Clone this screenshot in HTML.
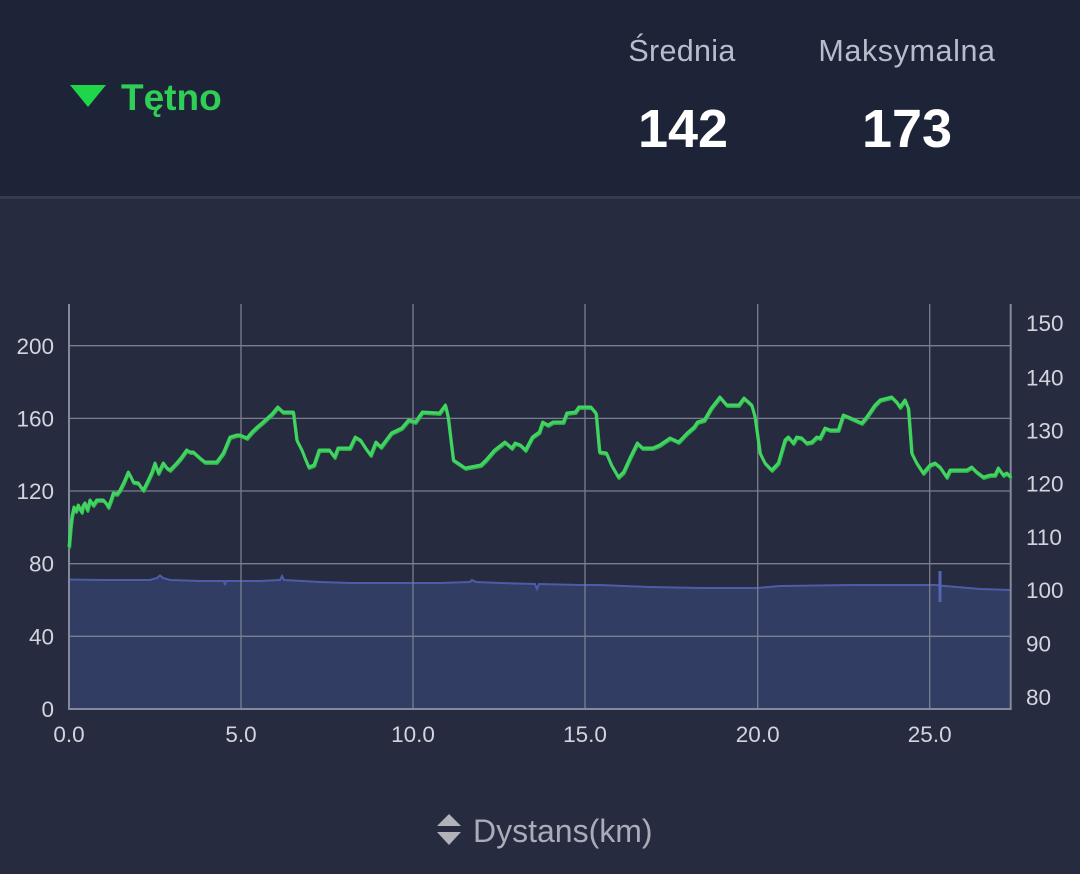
<!DOCTYPE html>
<html>
<head>
<meta charset="utf-8">
<style>
  html,body{margin:0;padding:0;}
  body{width:1080px;height:874px;overflow:hidden;background:#262b3f;font-family:"Liberation Sans",Arial,sans-serif;position:relative;}
  .hdr{position:absolute;left:0;top:0;width:1080px;height:196px;background:#1d2438;}
  .sep{position:absolute;left:0;top:196px;width:1080px;height:3px;background:#343b51;}
</style>
</head>
<body>
<div class="hdr"></div>
<div class="sep"></div>

<svg width="1080" height="874" style="position:absolute;left:0;top:0" xmlns="http://www.w3.org/2000/svg">
  <!-- header -->
  <polygon points="70,85 106,85 88,107" fill="#1fd64a"/>
  <text x="121" y="110" font-family="Liberation Sans, sans-serif" font-weight="bold" font-size="37" fill="#2fcf55">Tętno</text>
  <text x="682" y="61" text-anchor="middle" font-family="Liberation Sans, sans-serif" font-size="30.5" letter-spacing="0.3" fill="#b9bdcb">Średnia</text>
  <text x="907" y="61" text-anchor="middle" font-family="Liberation Sans, sans-serif" font-size="30.5" letter-spacing="0.6" fill="#b9bdcb">Maksymalna</text>
  <text x="683" y="147" text-anchor="middle" font-family="Liberation Sans, sans-serif" font-weight="bold" font-size="54" fill="#ffffff">142</text>
  <text x="907" y="147" text-anchor="middle" font-family="Liberation Sans, sans-serif" font-weight="bold" font-size="54" fill="#ffffff">173</text>

  <!-- blue area -->
  <polygon fill="#313d62" points="69,709 69,579.5 100,580 150,580 157,578 160,575.5 163,578 170,580 200,581 224,581 225,585 226,581 260,581 280,580 282,576 284,580 320,582 350,583 400,583 440,583 470,582 472,580 476,582 500,583 535,584 537,589 539,584 580,585 600,585 650,587 700,588 740,588 757,588 780,586 800,585.7 850,585 900,585 935,585 945,586 980,589 1011,590 1011,709"/>
  <polyline fill="none" stroke="#4d5ca6" stroke-width="2" points="69,579.5 100,580 150,580 157,578 160,575.5 163,578 170,580 200,581 224,581 225,585 226,581 260,581 280,580 282,576 284,580 320,582 350,583 400,583 440,583 470,582 472,580 476,582 500,583 535,584 537,589 539,584 580,585 600,585 650,587 700,588 740,588 757,588 780,586 800,585.7 850,585 900,585 935,585 945,586 980,589 1011,590"/>
  <rect x="938.5" y="571" width="3" height="31" fill="#5565b5"/>

  <!-- grid -->
  <g stroke="#7a7f90" stroke-width="1.3">
    <line x1="69" y1="345.7" x2="1011" y2="345.7"/>
    <line x1="69" y1="418.4" x2="1011" y2="418.4"/>
    <line x1="69" y1="491" x2="1011" y2="491"/>
    <line x1="69" y1="563.7" x2="1011" y2="563.7"/>
    <line x1="69" y1="636.3" x2="1011" y2="636.3"/>
    <line x1="241" y1="304" x2="241" y2="709"/>
    <line x1="413" y1="304" x2="413" y2="709"/>
    <line x1="585" y1="304" x2="585" y2="709"/>
    <line x1="757.7" y1="304" x2="757.7" y2="709"/>
    <line x1="929.7" y1="304" x2="929.7" y2="709"/>
  </g>
  <g stroke="#858a9a" stroke-width="2">
    <line x1="69" y1="304" x2="69" y2="709"/>
    <line x1="1010.7" y1="304" x2="1010.7" y2="709"/>
    <line x1="68" y1="709" x2="1011.7" y2="709"/>
  </g>

  <!-- green HR line -->
  <g fill="none" stroke-linejoin="round">
  <polyline id="hr" stroke="#2fb84c" stroke-width="3" transform="translate(0.6,1.4)" points="69,547 70.7,527 72,516 74,507 76,511 78.3,505 80,509 81.7,512 83,506 85,503 87.3,510 90,500 93.3,505 96.7,500 103.3,500 106,503 108.3,507 111,500 113.3,493 117,494 120,490 124,482 128.3,472 131,477 133.3,482 138.3,483 141,487 143.3,490 148.3,480 152,472 155,463 158.3,473 163.3,463 167,468 170,470 176.7,463 181,458 186.7,450 190,452 193.3,452 200,458 205,462 216.7,462 223.3,453 230,437 236.7,435 240,435 246.9,438 252,432 257.2,427 262,423 267.5,418 272,414 277.8,407 283,412 293.3,412 296.8,440 301.9,450 305,458 308.8,467 314,465 319.1,450 329.4,450 334.6,457 338,448 350,448 355.2,437 360.4,440 365.6,448 370.7,455 375.9,442 381,447 391.4,433 401.7,428 408.6,420 415.4,422 422.3,412 439.5,413 445.4,405 448.1,417 453.3,460 465.3,468 480.8,465 486,460 494.6,450 504.9,442 511.8,448 515.2,443 520.4,445 525.5,450 532.4,437 539.3,432 542.7,422 547.9,425 553,422 563.4,422 566.8,413 575.4,412 578.8,407 590.9,407 596,413 599.5,452 606.4,453 611.5,465 618.4,477 623.6,472 630.4,457 637.3,443 642.5,448 652.8,448 659.7,445 670,438 678.6,442 687.2,433 694.1,427 697.5,422 704.4,420 711.3,408 719.9,397 726.8,405 738.8,405 744,398 751.7,405 755,417 760,453 765,463 771.7,470 778.3,463 785,440 788.3,437 793.3,443 796.7,437 801.7,438 806.7,443 811.7,442 816.7,437 820,438 825,428 830,430 838.3,430 843.3,415 848.3,417 861.7,423 866.7,417 875,405 880,400 891.7,397 896.7,402 900,407 905,400 908.3,408 911.7,453 916.7,463 923.3,473 930,465 935,463 940,467 946.7,477 950,470 966.7,470 971.7,467 976.7,472 983.3,477 990,475 995,475 998.3,468 1003.3,475 1006.7,473 1011,477"/>
  <polyline stroke="#42d460" stroke-width="3" points="69,547 70.7,527 72,516 74,507 76,511 78.3,505 80,509 81.7,512 83,506 85,503 87.3,510 90,500 93.3,505 96.7,500 103.3,500 106,503 108.3,507 111,500 113.3,493 117,494 120,490 124,482 128.3,472 131,477 133.3,482 138.3,483 141,487 143.3,490 148.3,480 152,472 155,463 158.3,473 163.3,463 167,468 170,470 176.7,463 181,458 186.7,450 190,452 193.3,452 200,458 205,462 216.7,462 223.3,453 230,437 236.7,435 240,435 246.9,438 252,432 257.2,427 262,423 267.5,418 272,414 277.8,407 283,412 293.3,412 296.8,440 301.9,450 305,458 308.8,467 314,465 319.1,450 329.4,450 334.6,457 338,448 350,448 355.2,437 360.4,440 365.6,448 370.7,455 375.9,442 381,447 391.4,433 401.7,428 408.6,420 415.4,422 422.3,412 439.5,413 445.4,405 448.1,417 453.3,460 465.3,468 480.8,465 486,460 494.6,450 504.9,442 511.8,448 515.2,443 520.4,445 525.5,450 532.4,437 539.3,432 542.7,422 547.9,425 553,422 563.4,422 566.8,413 575.4,412 578.8,407 590.9,407 596,413 599.5,452 606.4,453 611.5,465 618.4,477 623.6,472 630.4,457 637.3,443 642.5,448 652.8,448 659.7,445 670,438 678.6,442 687.2,433 694.1,427 697.5,422 704.4,420 711.3,408 719.9,397 726.8,405 738.8,405 744,398 751.7,405 755,417 760,453 765,463 771.7,470 778.3,463 785,440 788.3,437 793.3,443 796.7,437 801.7,438 806.7,443 811.7,442 816.7,437 820,438 825,428 830,430 838.3,430 843.3,415 848.3,417 861.7,423 866.7,417 875,405 880,400 891.7,397 896.7,402 900,407 905,400 908.3,408 911.7,453 916.7,463 923.3,473 930,465 935,463 940,467 946.7,477 950,470 966.7,470 971.7,467 976.7,472 983.3,477 990,475 995,475 998.3,468 1003.3,475 1006.7,473 1011,477"/>
  </g>

  <!-- left axis labels -->
  <g font-family="Liberation Sans, sans-serif" font-size="22.5" fill="#d2d5de" text-anchor="end">
    <text x="54" y="354">200</text>
    <text x="54" y="426.5">160</text>
    <text x="54" y="499">120</text>
    <text x="54" y="571.5">80</text>
    <text x="54" y="644.5">40</text>
    <text x="54" y="717">0</text>
  </g>
  <!-- right axis labels -->
  <g font-family="Liberation Sans, sans-serif" font-size="22.5" fill="#d2d5de" text-anchor="start">
    <text x="1026" y="331">150</text>
    <text x="1026" y="385.5">140</text>
    <text x="1026" y="438.5">130</text>
    <text x="1026" y="491.5">120</text>
    <text x="1026" y="545">110</text>
    <text x="1026" y="598">100</text>
    <text x="1026" y="651.5">90</text>
    <text x="1026" y="705">80</text>
  </g>
  <!-- x axis labels -->
  <g font-family="Liberation Sans, sans-serif" font-size="22.5" fill="#d2d5de" text-anchor="middle">
    <text x="69" y="742">0.0</text>
    <text x="241" y="742">5.0</text>
    <text x="413" y="742">10.0</text>
    <text x="585" y="742">15.0</text>
    <text x="757.7" y="742">20.0</text>
    <text x="929.7" y="742">25.0</text>
  </g>

  <!-- x axis title -->
  <polygon points="437,826 461,826 449,814" fill="#b1b2ba"/>
  <polygon points="437,832 461,832 449,845" fill="#b1b2ba"/>
  <text x="473" y="842" font-family="Liberation Sans, sans-serif" font-size="32" fill="#a9acb9">Dystans(km)</text>
</svg>
</body>
</html>
